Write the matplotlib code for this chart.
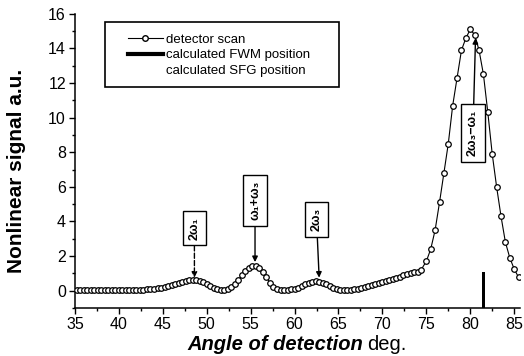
import matplotlib
matplotlib.use("Agg")
import matplotlib.pyplot as plt
from matplotlib.lines import Line2D
from matplotlib.patches import Rectangle
from matplotlib.ticker import MultipleLocator

plt.rcParams['font.family'] = ['Liberation Sans', 'DejaVu Sans']

# detector scan, angle (deg) vs nonlinear signal (a.u.)
angle = [35.2, 35.6, 36.0, 36.4, 36.8, 37.2, 37.6, 38.0, 38.4, 38.8,
         39.2, 39.6, 40.0, 40.4, 40.8, 41.2, 41.6, 42.0, 42.4, 42.8,
         43.2, 43.6, 44.0, 44.4, 44.8, 45.2, 45.6, 46.0, 46.4, 46.8,
         47.2, 47.6, 48.0, 48.4, 48.8, 49.2, 49.6, 50.0, 50.4, 50.8,
         51.2, 51.6, 52.0, 52.4, 52.8, 53.2, 53.6, 54.0, 54.4, 54.8,
         55.2, 55.6, 56.0, 56.4, 56.8, 57.2, 57.6, 58.0, 58.4, 58.8,
         59.2, 59.6, 60.0, 60.4, 60.8, 61.2, 61.6, 62.0, 62.4, 62.8,
         63.2, 63.6, 64.0, 64.4, 64.8, 65.2, 65.6, 66.0, 66.4, 66.8,
         67.2, 67.6, 68.0, 68.4, 68.8, 69.2, 69.6, 70.0, 70.4, 70.8,
         71.2, 71.6, 72.0, 72.4, 72.8, 73.2, 73.6, 74.0, 74.4,
         75.0, 75.5, 76.0, 76.5, 77.0, 77.5, 78.0, 78.5, 79.0, 79.5,
         80.0, 80.5, 81.0, 81.5, 82.0, 82.5, 83.0, 83.5, 84.0, 84.5,
         85.0, 85.5]
signal = [0.06, 0.06, 0.05, 0.06, 0.05, 0.05, 0.06, 0.05, 0.04, 0.05,
          0.04, 0.05, 0.04, 0.05, 0.04, 0.04, 0.05, 0.05, 0.06, 0.06,
          0.07, 0.08, 0.10, 0.13, 0.16, 0.20, 0.25, 0.30, 0.36, 0.43,
          0.50, 0.56, 0.60, 0.63, 0.62, 0.58, 0.50, 0.38, 0.25, 0.13,
          0.07, 0.05, 0.06, 0.10, 0.20, 0.38, 0.62, 0.88, 1.12, 1.30,
          1.42, 1.43, 1.30, 1.08, 0.78, 0.45, 0.20, 0.08, 0.05, 0.05,
          0.06, 0.08, 0.12, 0.18, 0.27, 0.36, 0.44, 0.50, 0.53, 0.52,
          0.47, 0.38, 0.28, 0.18, 0.10, 0.06, 0.05, 0.05, 0.06, 0.08,
          0.12, 0.17, 0.22, 0.28, 0.34, 0.40, 0.46, 0.51, 0.56, 0.62,
          0.68, 0.72, 0.80, 0.88, 0.95, 1.02, 1.08, 1.10, 1.20,
          1.70, 2.40, 3.50, 5.10, 6.80, 8.50, 10.7, 12.3, 13.9, 14.6,
          15.1, 14.8, 13.9, 12.5, 10.3, 7.90, 6.00, 4.30, 2.80, 1.90,
          1.25, 0.77]

# calculated FWM position
fwm_angle = [81.5]
fwm_height = [2.1]

# calculated SFG positions (labels, arrow angle, arrow tip, box centre)
sfg_labels = ['2ω₁', 'ω₁+ω₃', '2ω₃', '2ω₃−ω₁']
sfg_angle = [48.6, 55.5, 62.8, 80.6]
sfg_tip = [0.75, 1.65, 0.75, 14.6]
sfg_box_x = [48.6, 55.5, 62.5, 80.3]
sfg_box_y = [3.6, 5.2, 4.1, 9.1]
sfg_style = ['--', '-', '-', '-']

fig = plt.figure(figsize=(5.24, 3.56), dpi=100)
ax = fig.add_axes([0.143, 0.135, 0.85, 0.826])

ax.plot(angle, signal, '-', color='black', lw=0.8, marker='o', ms=4,
        mfc='white', mec='black', mew=0.9, zorder=3)
ax.bar(fwm_angle, fwm_height, bottom=-1, width=0.3, color='black', zorder=2)

for lab, a, tip, bx, by, st in zip(sfg_labels, sfg_angle, sfg_tip,
                                   sfg_box_x, sfg_box_y, sfg_style):
    ax.annotate(lab, xy=(a, tip), xytext=(bx, by), rotation=90,
                ha='center', va='center', fontsize=9, fontweight='bold',
                bbox=dict(boxstyle='square,pad=0.45', fc='white', ec='black', lw=1),
                arrowprops=dict(arrowstyle='-|>', color='black', lw=1,
                                linestyle=st, mutation_scale=8,
                                shrinkA=0, shrinkB=0),
                zorder=4)

ax.set_xlim(35, 85.7)
ax.set_ylim(-1, 16)
ax.xaxis.set_major_locator(MultipleLocator(5))
ax.xaxis.set_minor_locator(MultipleLocator(2.5))
ax.yaxis.set_minor_locator(MultipleLocator(1))
ax.set_yticks(range(0, 17, 2))
ax.tick_params(which='major', direction='out', length=4, width=1,
               labelsize=11.5, pad=2.5)
ax.tick_params(which='minor', direction='out', length=2.5, width=1)
for s in ['top', 'right']:
    ax.spines[s].set_visible(False)
for s in ['left', 'bottom']:
    ax.spines[s].set_linewidth(1.1)

ax.set_ylabel('Nonlinear signal a.u.', fontsize=15, fontweight='bold')
ax.yaxis.set_label_coords(-0.11, 0.466)
fig.text(363 / 524, 1 - 344 / 356, 'Angle of detection', fontsize=14.5,
         fontweight='bold', fontstyle='italic', ha='right', va='center')
fig.text(367 / 524, 1 - 344 / 356, 'deg.', fontsize=14.5, ha='left', va='center')

# legend frame drawn separately so its padding matches the original
ax.add_patch(Rectangle((0.067, 0.752), 0.526, 0.221, transform=ax.transAxes,
                       fc='white', ec='black', lw=1.2, zorder=5))
handles = [Line2D([], [], color='black', lw=0.8, marker='o', ms=4, mfc='white', mec='black'),
           Line2D([], [], color='black', lw=3),
           Line2D([], [], color='none')]
labels = ['detector scan', 'calculated FWM position', 'calculated SFG position']
leg = ax.legend(handles, labels, loc='upper left', bbox_to_anchor=(0.119, 0.934),
                borderaxespad=0, borderpad=0, fontsize=9.5, frameon=False,
                handlelength=2.65, handletextpad=0.2, labelspacing=0.28)
leg.set_zorder(6)

fig.savefig('out.png', dpi=100)
